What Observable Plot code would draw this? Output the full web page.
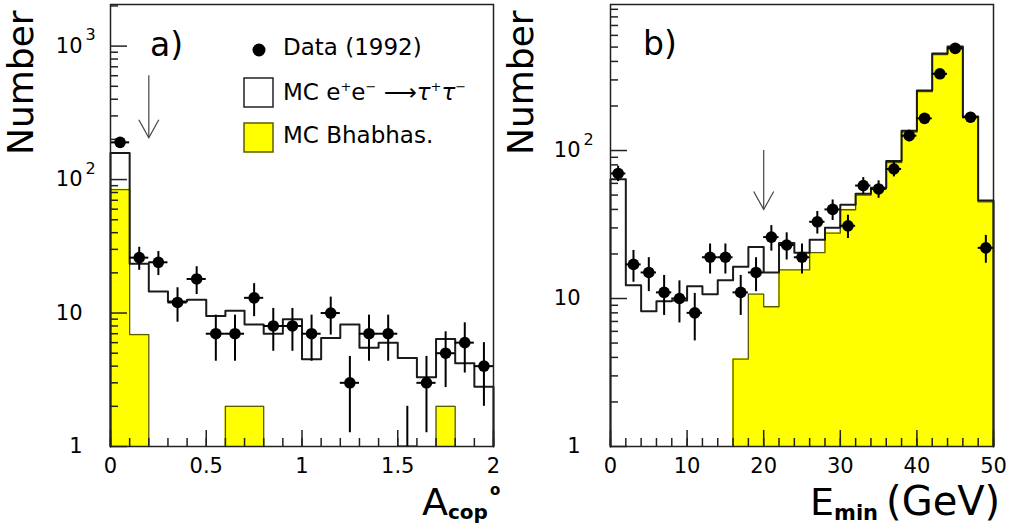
<!DOCTYPE html>
<html><head><meta charset="utf-8">
<script src="https://cdn.jsdelivr.net/npm/d3@7"></script>
<script src="https://cdn.jsdelivr.net/npm/@observablehq/plot@0.6"></script>
<style>
body{margin:0;background:#fff;}
#wrap{position:relative;width:1009px;height:532px;overflow:hidden;background:#fff}
#wrap svg{position:absolute;top:0}
</style></head><body><div id="wrap"></div>
<script>
// ---------- Panel a) : acoplanarity ----------
const aBinLow = [0,0.1,0.2,0.3,0.4,0.5,0.6,0.7,0.8,0.9,1.0,1.1,1.2,1.3,1.4,1.5,1.6,1.7,1.8,1.9];
const aData   = [190,26,24,12,18,7,7,13,8,8,7,10,3,7,7,1,3,5,6,4];
const aMCtau  = [158,23.4,14.5,12.2,12.6,9.5,10.4,8.2,7.0,9.0,4.5,6.5,8.2,5.5,6.0,4.6,3.3,6.4,4.2,2.8];
const aMCbhab = [84,6.9,null,null,null,null,2,2,null,null,null,null,null,null,null,null,null,2,null,null];
const aXTicks = [0,0.5,1,1.5,2];
const aXTickLabels = ["0","0.5","1","1.5","2"];
const aCut = {x:0.2, from:600, to:206};

// ---------- Panel b) : E_min ----------
const bBinLow = [0,2,4,6,8,10,12,14,16,18,20,22,24,26,28,30,32,34,36,38,40,42,44,46,48];
const bData   = [70,17,15,11,10,8,19,19,11,15,26,23,19,33,40,31,58,55,75,126,165,330,490,168,22];
const bMCtau  = [64,12.3,8.2,9.6,9.7,12.1,10.7,13.3,16.4,22.3,15.0,23.7,20.4,25,30.1,43,51,56,85,136,254,453,505,170,46];
const bMCbhab = [null,null,null,null,null,null,null,null,3.9,10.7,8.8,15.6,15.6,20.4,27.7,39.8,49.9,55,83,133,250,445,495,167,45];
const bXTicks = [0,10,20,30,40,50];
const bXTickLabels = ["0","10","20","30","40","50"];
const bCut = {x:20, from:100, to:40};

const yTickLabel = {1:"1",10:"10",100:"10",1000:"10"};
const yTickExp = {100:"2",1000:"3"};

const legendLabels = ["Data (1992)", "MC Bhabhas."];

const W = 1009, H = 532, MT = 4, MB = 86;
const FONT = "DejaVu Sans";

function stepPts(bins, key, base) {
  const pts = []; let run = 0, open = false;
  bins.forEach((b, i) => {
    const v = b[key];
    if (v == null) {
      if (open) { pts.push({x: bins[i-1].x2, y: base, z: run}); open = false; run++; }
      return;
    }
    if (!open) { pts.push({x: b.x1, y: base, z: run}); open = true; }
    pts.push({x: b.x1, y: v, z: run}, {x: b.x2, y: v, z: run});
  });
  if (open) pts.push({x: bins[bins.length-1].x2, y: base, z: run});
  return pts;
}

const vHead = {draw(ctx) { ctx.moveTo(-10, -18); ctx.lineTo(0, 0); ctx.lineTo(10, -18); }};

function panel(c) {
  const frameW = c.width - c.ml - c.mr, frameH = H - MT - MB;
  const base = c.yDomain[0];
  const w = c.low[1] - c.low[0];
  const bins = c.low.map((x, i) => ({x1: x, x2: x + w, xc: x + w/2, d: c.data[i], mc: c.mc[i], bh: c.bh[i]}));
  const yMajor = Object.keys(yTickLabel).map(Number).filter(v => v <= c.yDomain[1]);
  const yMinor = [];
  yMajor.forEach(m => { for (let k = 2; k <= 9; k++) if (m*k <= c.yDomain[1]) yMinor.push(m*k); });
  const xMinor = d3.range(c.xDomain[0], c.xDomain[1] + 1e-9, c.minorStep).map(v => +v.toFixed(6));
  const tk = {stroke: "#222", strokeWidth: 1.5};
  const el = Plot.plot({
    width: c.width, height: H, marginLeft: c.ml, marginRight: c.mr, marginTop: MT, marginBottom: MB,
    x: {domain: c.xDomain, axis: null},
    y: {type: "log", domain: c.yDomain, axis: null},
    style: {fontFamily: FONT, background: "transparent", overflow: "visible", color: "#000"},
    marks: [
      Plot.rectY(bins.filter(b => b.bh != null), {x1: "x1", x2: "x2", y1: () => base, y2: "bh", fill: "#ffff00", stroke: "#ffff00", strokeWidth: 1}),
      Plot.line(stepPts(bins, "bh", base), {x: "x", y: "y", z: "z", stroke: "#5c5c00", strokeWidth: 1.3}),
      Plot.line(stepPts(bins, "mc", base), {x: "x", y: "y", z: "z", stroke: "#1a1a1a", strokeWidth: 2}),
      Plot.tickY(yMinor, {y: d => d, insetRight: frameW - 8, ...tk}),
      Plot.tickY(yMajor, {y: d => d, insetRight: frameW - 17, ...tk}),
      Plot.tickX(xMinor, {x: d => d, insetTop: frameH - 8, ...tk}),
      Plot.tickX(c.xTicks, {x: d => d, insetTop: frameH - 16, ...tk}),
      Plot.ruleY(bins, {y: "d", x1: "x1", x2: "x2", stroke: "#000", strokeWidth: 2, clip: true}),
      Plot.ruleX(bins, {x: "xc", y1: b => Math.max(b.d - Math.sqrt(b.d), base/10), y2: b => b.d + Math.sqrt(b.d), stroke: "#000", strokeWidth: 2, clip: true}),
      Plot.dot(bins.filter(b => b.d > base), {x: "xc", y: "d", r: 5.8, fill: "#000", stroke: null}),
      Plot.ruleX([c.cut], {x: "x", y1: "from", y2: "to", stroke: "#444", strokeWidth: 1.2}),
      Plot.dot([c.cut], {x: "x", y: "to", symbol: vHead, r: 8, fill: "none", stroke: "#444", strokeWidth: 1.2}),
      Plot.frame({stroke: "#222", strokeWidth: 1.5}),
      Plot.text(c.xTicks, {x: d => d, text: (d, i) => c.xLabels[i], frameAnchor: "bottom", lineAnchor: "top", dy: 12, fontSize: 21, fill: "#000"}),
      Plot.text(yMajor, {y: d => d, text: d => yTickLabel[d], frameAnchor: "left", textAnchor: "end", dx: -c.labDx, fontSize: 21, fill: "#000"}),
      Plot.text(yMajor.filter(d => yTickExp[d]), {y: d => d, text: d => yTickExp[d], frameAnchor: "left", textAnchor: "start", dx: -c.labDx + 3, dy: -11, fontSize: 16, fill: "#000"})
    ]
  });
  el.style.left = c.left + "px";
  document.getElementById("wrap").appendChild(el);
}

panel({left: 0, width: 504, ml: 110, mr: 11, low: aBinLow, data: aData, mc: aMCtau, bh: aMCbhab,
  xDomain: [0, 2], yDomain: [1, 2050], minorStep: 0.1, xTicks: aXTicks, xLabels: aXTickLabels, cut: aCut, labDx: 28});
panel({left: 504, width: 505, ml: 106, mr: 16, low: bBinLow, data: bData, mc: bMCtau, bh: bMCbhab,
  xDomain: [0, 50], yDomain: [1, 970], minorStep: 2, xTicks: bXTicks, xLabels: bXTickLabels, cut: bCut, labDx: 30});

// ---------- annotation overlay: titles, panel tags, legend ----------
const ov = d3.select("#wrap").append("svg").attr("width", W).attr("height", H)
  .style("left", "0px").attr("font-family", FONT).attr("fill", "#000");

[21 + 12, 521 + 12].forEach(x => {
  ov.append("text").attr("transform", `translate(${x},155) rotate(-90)`).attr("font-size", 36).text("Number");
});
ov.append("text").attr("x", 150).attr("y", 56).attr("font-size", 33).text("a)");
ov.append("text").attr("x", 643).attr("y", 55).attr("font-size", 33).text("b)");

// x titles
const tA = ov.append("text").attr("x", 422).attr("y", 515).attr("font-size", 38);
tA.append("tspan").text("A");
tA.append("tspan").attr("font-size", 20).attr("font-weight", "bold").attr("dy", 4).text("cop");
tA.append("tspan").attr("font-size", 15).attr("font-weight", "bold").attr("dy", -24).attr("dx", 2).text("o");

const tE = ov.append("text").attr("x", 810).attr("y", 515).attr("font-size", 38);
tE.append("tspan").text("E");
tE.append("tspan").attr("font-size", 21).attr("font-weight", "bold").attr("dy", 5).text("min");
tE.append("tspan").attr("dy", -5).attr("dx", 8).attr("font-size", 40).text("(GeV)");

// legend
ov.append("circle").attr("cx", 259).attr("cy", 50).attr("r", 6.5).attr("fill", "#000");
ov.append("text").attr("x", 283).attr("y", 55).attr("font-size", 23).text(legendLabels[0]);
ov.append("rect").attr("x", 244).attr("y", 78).attr("width", 29).attr("height", 29)
  .attr("fill", "#fff").attr("stroke", "#222").attr("stroke-width", 1.5);
const tT = ov.append("text").attr("x", 283).attr("y", 100).attr("font-size", 23);
tT.append("tspan").text("MC e");
tT.append("tspan").attr("font-size", 13).attr("dy", -9).text("+");
tT.append("tspan").attr("dy", 9).text("e");
tT.append("tspan").attr("font-size", 13).attr("dy", -9).text("\u2212");
tT.append("tspan").attr("dy", 9).text(" \u27F6");
tT.append("tspan").attr("font-style", "italic").text("\u03C4");
tT.append("tspan").attr("font-size", 13).attr("dy", -9).text("+");
tT.append("tspan").attr("dy", 9).attr("font-style", "italic").text("\u03C4");
tT.append("tspan").attr("font-size", 13).attr("dy", -9).text("\u2212");
ov.append("rect").attr("x", 244).attr("y", 123).attr("width", 29).attr("height", 29)
  .attr("fill", "#ffff00").attr("stroke", "#5c5c00").attr("stroke-width", 1.5);
ov.append("text").attr("x", 283).attr("y", 143).attr("font-size", 23).text(legendLabels[1]);
</script>
</body></html>
